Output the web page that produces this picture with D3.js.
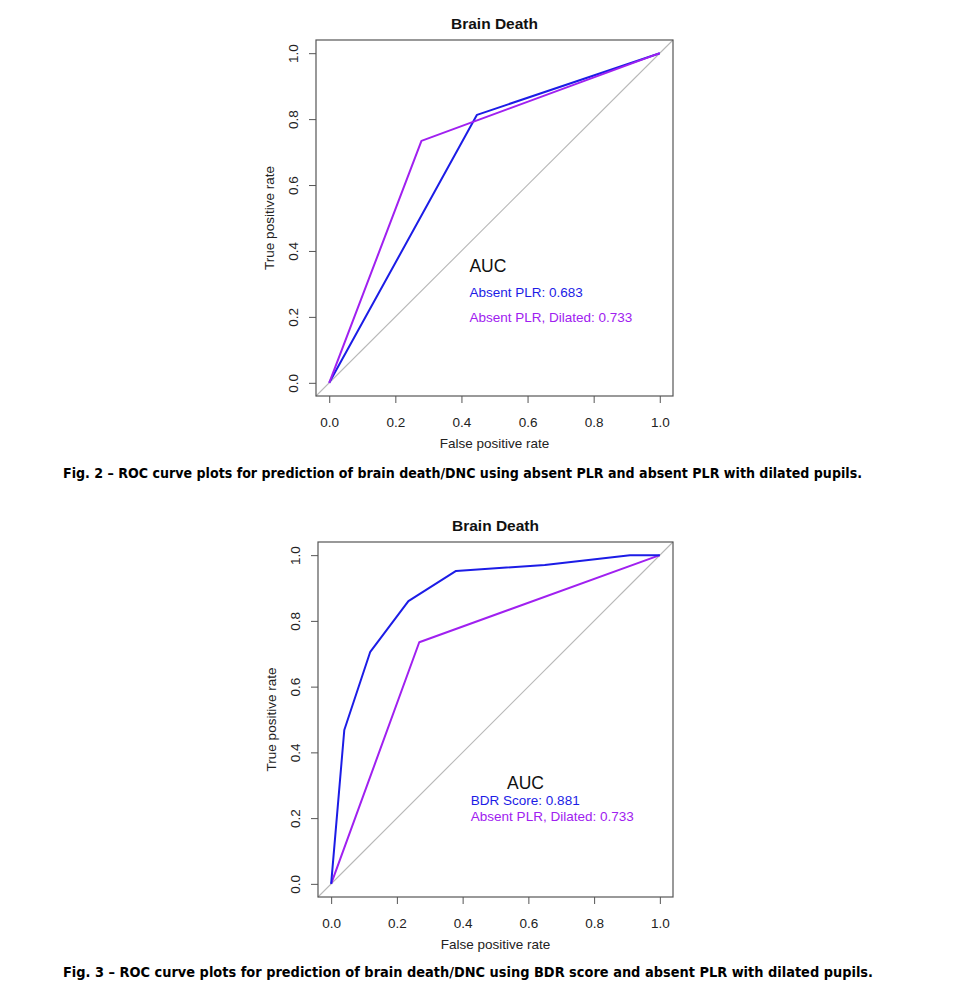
<!DOCTYPE html>
<html>
<head>
<meta charset="utf-8">
<script src="https://cdn.jsdelivr.net/npm/d3@7"></script>
<style>
  body { margin: 0; background: #fff; }
  text { font-family: "Liberation Sans", Arial, Helvetica, sans-serif; }
</style>
</head>
<body>
<script>
// data
var ticks = [0, 0.2, 0.4, 0.6, 0.8, 1.0];

// Fig. 2
var fig2PlrFpr = [0, 0.447, 1];
var fig2PlrTpr = [0, 0.813, 1];
var fig2DilFpr = [0, 0.279, 1];
var fig2DilTpr = [0, 0.734, 1];
var fig2Labels = ["Absent PLR: 0.683", "Absent PLR, Dilated: 0.733"];

// Fig. 3
var fig3BdrFpr = [0, 0.04, 0.119, 0.235, 0.38, 0.65, 0.909, 1];
var fig3BdrTpr = [0, 0.468, 0.706, 0.860, 0.952, 0.970, 1.0, 1];
var fig3DilFpr = [0, 0.268, 1];
var fig3DilTpr = [0, 0.735, 1];
var fig3Labels = ["BDR Score: 0.881", "Absent PLR, Dilated: 0.733"];

var captions = [
  "Fig. 2 \u2013 ROC curve plots for prediction of brain death/DNC using absent PLR and absent PLR with dilated pupils.",
  "Fig. 3 \u2013 ROC curve plots for prediction of brain death/DNC using BDR score and absent PLR with dilated pupils."
];

var blue = "#1c1ce6";
var purple = "#a020f0";

let width = 969;
let height = 985;

let svg = d3.select("body").append("svg")
    .attr("width", width)
    .attr("height", height);

function zip(xs, ys) {
    return xs.map((x, i) => ({x: x, y: ys[i]}));
}

function drawRoc(box, series, legend) {
    var g = svg.append("g");
    var x = d3.scaleLinear().domain([-0.04, 1.04]).range([box.left, box.right]);
    var y = d3.scaleLinear().domain([-0.04, 1.04]).range([box.bottom, box.top]);
    var cx = (box.left + box.right) / 2;
    var cy = (box.top + box.bottom) / 2;

    // diagonal reference line, corner to corner like abline
    g.append("line")
        .attr("x1", x(-0.04)).attr("y1", y(-0.04))
        .attr("x2", x(1.04)).attr("y2", y(1.04))
        .attr("stroke", "#b8b8b8")
        .attr("stroke-width", 1.1);

    var line = d3.line()
        .x(d => x(d.x))
        .y(d => y(d.y));

    series.forEach(function(s) {
        g.append("path")
            .datum(s.points)
            .attr("d", line)
            .attr("fill", "none")
            .attr("stroke", s.color)
            .attr("stroke-width", 2)
            .attr("stroke-linejoin", "round");
    });

    // box
    g.append("rect")
        .attr("x", box.left).attr("y", box.top)
        .attr("width", box.right - box.left)
        .attr("height", box.bottom - box.top)
        .attr("fill", "none")
        .attr("stroke", "#555")
        .attr("stroke-width", 1.2);

    // x axis
    var xAxis = d3.axisBottom(x).tickValues(ticks).tickFormat(d3.format(".1f")).tickSize(7).tickPadding(14);
    var gx = g.append("g")
        .attr("transform", "translate(0," + box.bottom + ")")
        .call(xAxis);
    gx.select(".domain").remove();
    gx.selectAll("line").attr("stroke", "#555");
    gx.selectAll("text")
        .attr("font-size", 13.5)
        .attr("fill", "#222")
        .style("font-family", "Liberation Sans, Arial, sans-serif");

    // y axis, R style rotated labels
    var yAxis = d3.axisLeft(y).tickValues(ticks).tickFormat(d3.format(".1f")).tickSize(7).tickPadding(0);
    var gy = g.append("g")
        .attr("transform", "translate(" + box.left + ",0)")
        .call(yAxis);
    gy.select(".domain").remove();
    gy.selectAll("line").attr("stroke", "#555");
    gy.selectAll("text")
        .attr("x", null).attr("dy", null)
        .attr("text-anchor", "middle")
        .attr("transform", "translate(-18,0) rotate(-90)")
        .attr("font-size", 13.5)
        .attr("fill", "#222")
        .style("font-family", "Liberation Sans, Arial, sans-serif");

    // titles
    g.append("text")
        .attr("x", cx).attr("y", box.top - 11)
        .attr("text-anchor", "middle")
        .attr("font-size", 15.5)
        .attr("font-weight", "bold")
        .attr("fill", "#111")
        .text("Brain Death");

    g.append("text")
        .attr("x", cx).attr("y", box.bottom + 52)
        .attr("text-anchor", "middle")
        .attr("font-size", 13.5)
        .attr("fill", "#222")
        .text("False positive rate");

    g.append("text")
        .attr("transform", "translate(" + (box.left - 42) + "," + cy + ") rotate(-90)")
        .attr("text-anchor", "middle")
        .attr("font-size", 13.5)
        .attr("fill", "#222")
        .text("True positive rate");

    // AUC legend
    g.append("text")
        .attr("x", x(legend.aucX)).attr("y", y(legend.aucY))
        .attr("font-size", 17.5)
        .attr("fill", "#111")
        .text("AUC");
    legend.rows.forEach(function(r) {
        g.append("text")
            .attr("x", x(legend.x)).attr("y", y(r.y))
            .attr("font-size", 13.5)
            .attr("fill", r.color)
            .text(r.text);
    });
}

drawRoc({left: 316, right: 673, top: 40, bottom: 396},
    [{points: zip(fig2PlrFpr, fig2PlrTpr), color: blue},
     {points: zip(fig2DilFpr, fig2DilTpr), color: purple}],
    {aucX: 0.424, aucY: 0.337, x: 0.424,
     rows: [{text: fig2Labels[0], y: 0.261, color: blue},
            {text: fig2Labels[1], y: 0.185, color: purple}]});

drawRoc({left: 318, right: 673, top: 542, bottom: 897},
    [{points: zip(fig3DilFpr, fig3DilTpr), color: purple},
     {points: zip(fig3BdrFpr, fig3BdrTpr), color: blue}],
    {aucX: 0.535, aucY: 0.289, x: 0.425,
     rows: [{text: fig3Labels[0], y: 0.240, color: blue},
            {text: fig3Labels[1], y: 0.191, color: purple}]});

// captions, condensed bold squeezed to the original width
var capPos = [{x: 63, y: 478, w: 799}, {x: 63, y: 977, w: 810}];
captions.forEach(function(c, i) {
    svg.append("text")
        .attr("x", capPos[i].x).attr("y", capPos[i].y)
        .attr("font-size", 14)
        .attr("font-weight", "bold")
        .attr("fill", "#000")
        .style("font-family", "'Liberation Sans Narrow', 'DejaVu Sans Condensed', 'Liberation Sans', sans-serif")
        .attr("textLength", capPos[i].w)
        .attr("lengthAdjust", "spacingAndGlyphs")
        .text(c);
});
</script>
</body>
</html>
